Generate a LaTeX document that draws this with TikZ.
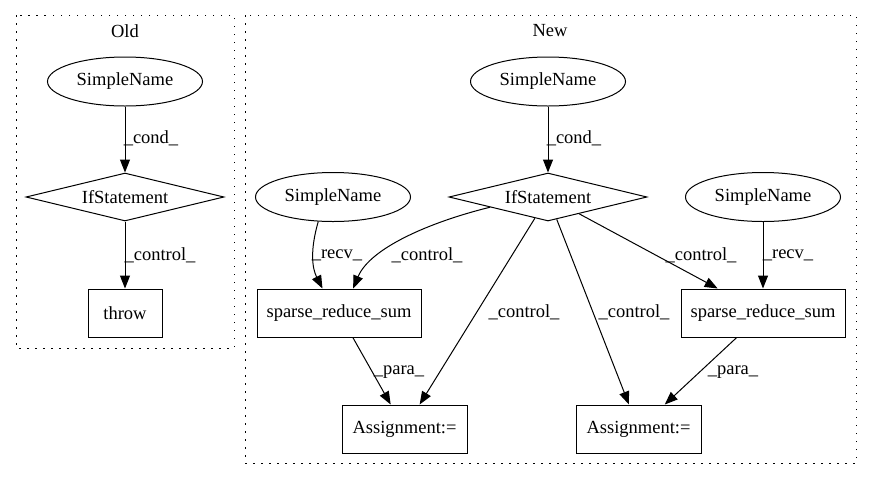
\documentclass[tikz,border=0pt]{standalone}
\usepackage{fontspec}
\setmainfont{Liberation Serif}
\usetikzlibrary{shapes.geometric,arrows.meta}

\tikzset{
  ell/.style={ellipse, draw, line width=1pt, minimum width=155pt, minimum height=49pt, inner sep=0pt},
  dia/.style={diamond, draw, line width=1pt, minimum width=198pt, minimum height=48pt, aspect=4, inner sep=0pt},
  box/.style={rectangle, draw, line width=1pt, minimum height=48pt, inner sep=0pt},
  arr/.style={-{Triangle[length=13pt,width=10pt]}, line width=1pt},
  lbl/.style={inner sep=0pt},
  cluster/.style={draw, line width=1pt, dash pattern=on 1.5pt off 6.5pt}
}

\begin{document}
\begin{tikzpicture}[x=1pt, y=-1pt, font=\fontsize{18.5}{22}\selectfont]
            \useasboundingbox (0,0) rectangle (872,480);

            % Old
            \draw[cluster] (16,15) rectangle (234,348);
            \node[lbl] (old) at (125,31) {Old};
            \node[ell] (os) at (125,81.5) {SimpleName};
            \node[dia] (oif) at (125,197) {IfStatement};
            \node[box, minimum width=74pt] (othrow) at (125,313) {throw};

            \draw[arr] (os) -- (oif);
            \draw[arr] (oif) -- (othrow);
            \node[lbl] (ocond) at (151,138) {\_cond\_};
            \node[lbl] (octrl) at (160,255) {\_control\_};

            % New
            \draw[cluster] (245,15) rectangle (856,463);
            \node[lbl] (new) at (550,31) {New};
            \node[ell] (ns) at (548,81.5) {SimpleName};
            \node[dia] (nif) at (548,197) {IfStatement};
            \node[ell] (nsl) at (333,197) {SimpleName};
            \node[ell] (nsr) at (763,197) {SimpleName};
            \node[box, minimum width=164pt] (sprl) at (339,313) {sparse\_reduce\_sum};
            \node[box, minimum width=164pt] (sprr) at (763,313) {sparse\_reduce\_sum};
            \node[box, minimum width=125pt] (asl) at (404.5,429) {Assignment:=};
            \node[box, minimum width=125pt] (asr) at (638.5,429) {Assignment:=};

            % Edges
            \draw[arr] (ns) -- (nif);
            \draw[arr] (nsl.239) .. controls (310,250) and (312,268) .. (sprl.124);
            \draw[arr] (nif.190) .. controls (430,222) and (370,248) .. (sprl.60);
            \draw[arr] (nif) -- (asl);
            \draw[arr] (nif) -- (asr);
            \draw[arr] (nif) -- (sprr);
            \draw[arr] (nsr) -- (sprr);
            \draw[arr] (sprl) -- (asl);
            \draw[arr] (sprr) -- (asr);

            % Edge labels
            \node[lbl] (ncond) at (574,138) {\_cond\_};
            \node[lbl] (lrecv) at (337,255) {\_recv\_};
            \node[lbl] (lctrl) at (427,255) {\_control\_};
            \node[lbl] (actrl) at (524,312) {\_control\_};
            \node[lbl] (bctrl) at (634,312) {\_control\_};
            \node[lbl] (rctrl) at (701,255) {\_control\_};
            \node[lbl] (rrecv) at (788,255) {\_recv\_};
            \node[lbl] (lpara) at (399,372) {\_para\_};
            \node[lbl] (rpara) at (733,372) {\_para\_};
        \end{tikzpicture}
\end{document}
